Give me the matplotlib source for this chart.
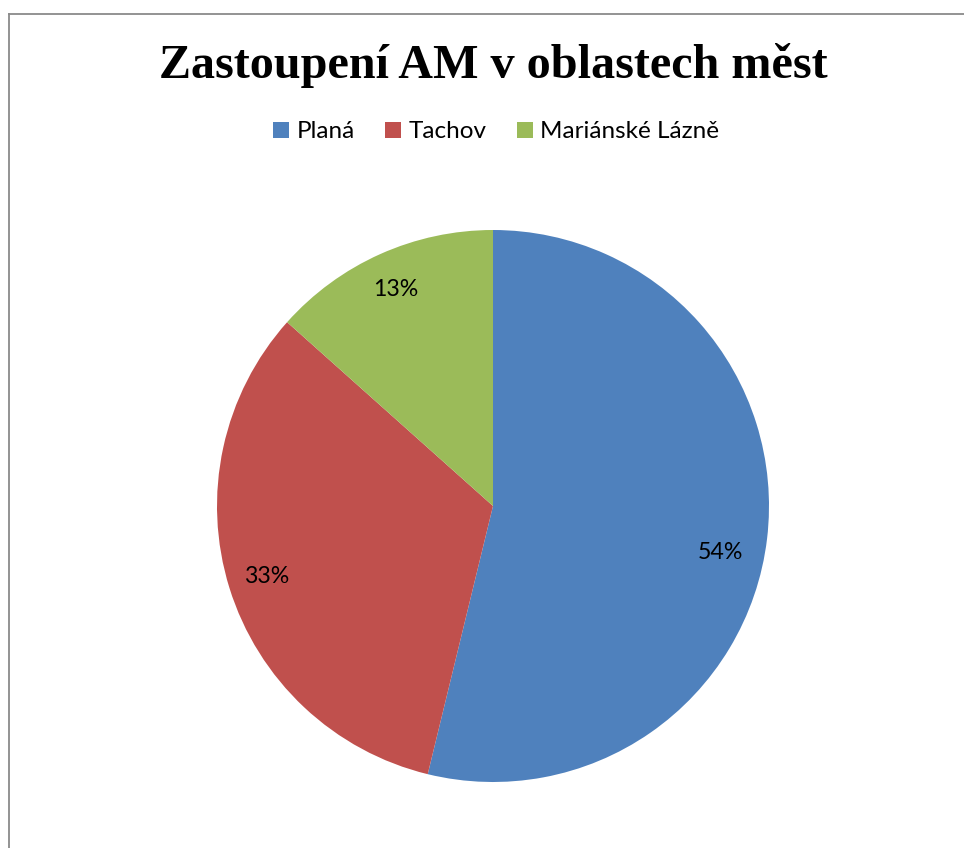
import matplotlib.pyplot as plt
from matplotlib.lines import Line2D

# data
cities = ['Planá', 'Tachov', 'Mariánské Lázně']
shares = [53.8, 32.8, 13.4]
colors = ['#4F81BD', '#C0504D', '#9BBB59']

W, H = 964, 848
fig = plt.figure(figsize=(W / 100, H / 100), dpi=100)

# pie area: centre (493, 506), radius 276 px
r = 276
ax = fig.add_axes([(493 - r) / W, (H - 506 - r) / H, 2 * r / W, 2 * r / H])
wedges, texts, autotexts = ax.pie(
    shares, colors=colors, startangle=90, counterclock=False,
    autopct='%1.0f%%', pctdistance=0.86, radius=1,
    textprops=dict(fontsize=16.7, family='Lato', color='black'))
# excel puts the big slice label a little lower
x0, y0 = autotexts[0].get_position()
autotexts[0].set_position((x0 - 0.03, y0 - 0.065))
ax.set_xlim(-1, 1)
ax.set_ylim(-1, 1)
ax.set_aspect('equal')
ax.axis('off')

fig.text(493 / W, 1 - 65 / H, 'Zastoupení AM v oblastech měst',
         ha='center', va='center', fontsize=34.7, fontweight='bold',
         family='Liberation Serif')

fig.legend(wedges, cities, loc='center', bbox_to_anchor=(496 / W, 1 - 132 / H),
           ncol=3, frameon=False, handlelength=0.66, handleheight=0.66,
           handletextpad=0.3, columnspacing=1.25,
           prop=dict(family='Lato', size=17.5))

# chart frame (only left and top edges visible)
fig.add_artist(Line2D([8.5 / W, 8.5 / W], [0, 1 - 13.5 / H], color='#8a8a8a', lw=1.3))
fig.add_artist(Line2D([8.5 / W, 1], [1 - 13.5 / H, 1 - 13.5 / H], color='#8a8a8a', lw=1.3))

fig.savefig('out.png', dpi=100, facecolor='white')
